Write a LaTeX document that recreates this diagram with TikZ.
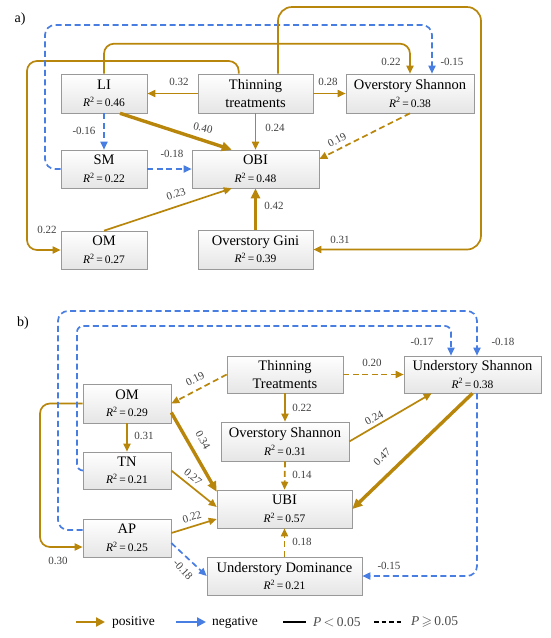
\documentclass[tikz,border=0pt]{standalone}
\usepackage{fontspec}
\setmainfont{Liberation Serif}
\usepackage{amssymb}
\usetikzlibrary{arrows.meta,calc,shadows}
\definecolor{brn}{RGB}{184,134,11}
\definecolor{blu}{RGB}{72,125,225}
\newcommand\nmf{\fontsize{14.5}{17.5}\selectfont}
\newcommand\rrf{\fontsize{11.5}{17.5}\selectfont}
\newcommand\rsq[1]{{\rrf\textit{R}\textsuperscript{2}\,=\,#1}}
\tikzset{
  box/.style={draw=black!40, line width=0.6pt, top color=white, bottom color=black!10,
    drop shadow={shadow xshift=1.3pt,shadow yshift=-1.3pt,opacity=0.35,fill=black!60},
    align=center, inner sep=1pt, font=\nmf},
  posarr/.style={draw=brn, line width=1.7pt, -{Triangle[length=8pt,width=7pt]}},
  negarr/.style={draw=blu, line width=1.7pt, dash pattern=on 6pt off 3.5pt, -{Triangle[length=8pt,width=7pt]}},
  dsh/.style={dash pattern=on 6pt off 3.5pt},
  heavy/.style={line width=3.4pt, -{Triangle[length=10pt,width=9pt]}},
  lbl/.style={font=\fontsize{11}{12}\selectfont, text=black!75, inner sep=0pt},
  lgd/.style={font=\fontsize{13.5}{15}\selectfont, anchor=west, inner sep=0pt},
}
\begin{document}
\begin{tikzpicture}[x=1pt,y=-1pt]
\useasboundingbox (0,0) rectangle (550,638);
% ---------------- part a ----------------
\node[font=\fontsize{14}{16}\selectfont] (alab) at (20,19) {a)};
\node[box, minimum width=86pt, minimum height=39pt] (aLI) at (104,93.5) {LI\\\rsq{0.46}};
\node[box, minimum width=115pt, minimum height=39pt] (aTT) at (255.5,93.5) {Thinning\\treatments};
\node[box, minimum width=128pt, minimum height=39pt] (aOS) at (410,93.5) {Overstory Shannon\\\rsq{0.38}};
\node[box, minimum width=86pt, minimum height=38pt] (aSM) at (104,169) {SM\\\rsq{0.22}};
\node[box, minimum width=127pt, minimum height=38pt] (aOBI) at (255.5,169) {OBI\\\rsq{0.48}};
\node[box, minimum width=86pt, minimum height=38pt] (aOM) at (104,250) {OM\\\rsq{0.27}};
\node[box, minimum width=115pt, minimum height=39pt] (aOG) at (255.5,249.5) {Overstory Gini\\\rsq{0.39}};
\coordinate (aw1) at (27,61);
\coordinate (aw2) at (45,25);
\coordinate (aw3) at (481,7);

\draw[posarr] (aTT.west) -- (aLI.east);
\draw[posarr] (aTT.east) -- (aOS.west);
\draw[posarr] (aTT.south) -- (aOBI.north);
\draw[posarr, heavy] ($(aLI.south)+(16,0)$) -- ($(aOBI.north west)+(40,0)$);
\draw[negarr] (aLI.south) -- (aSM.north);
\draw[negarr] (aSM.east) -- (aOBI.west);
\draw[posarr] (aOM.north) -- ($(aOBI.south west)+(40,0)$);
\draw[posarr, heavy] (aOG.north) -- (aOBI.south);
\draw[posarr, dsh] (aOS.south) -- ($(aOBI.east)+(0,-10)$);
\draw[posarr, rounded corners=10pt] ($(aTT.north west)+(41,0)$) |- (aw1) |- (aOM.west);
\draw[posarr, rounded corners=10pt] (aLI.north) |- ($(aOS.north)+(0,-30)$) -- (aOS.north);
\draw[negarr, rounded corners=10pt] (aSM.west) -| (aw2) -| ($(aOS.north)+(22,0)$);
\draw[posarr, rounded corners=14pt] ($(aTT.north)+(22.5,0)$) |- (aw3) |- (aOG.east);

\node[lbl] (la1) at (179,82) {0.32};
\node[lbl] (la2) at (328,82) {0.28};
\node[lbl] (la3) at (275,128) {0.24};
\node[lbl, rotate=-12] (la4) at (203,128) {0.40};
\node[lbl] (la5) at (84,131) {-0.16};
\node[lbl] (la6) at (172,154) {-0.18};
\node[lbl, rotate=18] (la7) at (176,194) {0.23};
\node[lbl] (la8) at (274,206) {0.42};
\node[lbl, rotate=28] (la9) at (337,140) {0.19};
\node[lbl] (la10) at (47,230) {0.22};
\node[lbl] (la11) at (391,62) {0.22};
\node[lbl] (la12) at (452,62) {-0.15};
\node[lbl] (la13) at (340,240) {0.31};

% ---------------- part b ----------------
\node[font=\fontsize{14}{16}\selectfont] (blab) at (23,323) {b)};
\node[box, minimum width=116pt, minimum height=37pt] (bTT) at (285,374.5) {Thinning\\Treatments};
\node[box, minimum width=137pt, minimum height=37pt] (bUS) at (472.5,374.5) {Understory Shannon\\\rsq{0.38}};
\node[box, minimum width=88pt, minimum height=39pt] (bOM) at (127,403.5) {OM\\\rsq{0.29}};
\node[box, minimum width=128pt, minimum height=39pt] (bOS) at (285,441.5) {Overstory Shannon\\\rsq{0.31}};
\node[box, minimum width=88pt, minimum height=37pt] (bTN) at (127,470.5) {TN\\\rsq{0.21}};
\node[box, minimum width=135pt, minimum height=38pt] (bUBI) at (284.5,509) {UBI\\\rsq{0.57}};
\node[box, minimum width=88pt, minimum height=38pt] (bAP) at (127,538) {AP\\\rsq{0.25}};
\node[box, minimum width=155pt, minimum height=38pt] (bUD) at (284.5,576) {Understory Dominance\\\rsq{0.21}};
\coordinate (bw1) at (40,547);
\coordinate (bw2) at (77,326);
\coordinate (bw3) at (58,311);

\draw[posarr, dsh] (bTT.west) -- (bOM.east);
\draw[posarr, dsh] (bTT.east) -- (bUS.west);
\draw[posarr] (bTT.south) -- (bOS.north);
\draw[posarr] (bOS.east) -- ($(bUS.south west)+(28,0)$);
\draw[posarr, dsh] (bOS.south) -- (bUBI.north);
\draw[posarr, heavy] (bUS.south) -- (bUBI.east);
\draw[posarr] (bOM.south) -- (bTN.north);
\draw[posarr, heavy] ($(bOM.east)+(0,9)$) -- ($(bUBI.north west)+(0,2)$);
\draw[posarr] (bTN.east) -- ($(bUBI.west)+(0,-2)$);
\draw[posarr] ($(bAP.east)+(0,-5)$) -- ($(bUBI.west)+(0,10)$);
\draw[negarr] ($(bAP.east)+(0,5)$) -- (bUD.west);
\draw[posarr, dsh] (bUD.north) -- (bUBI.south);
\draw[negarr, rounded corners=10pt] ($(bUS.south)+(4.5,0)$) |- (bUD.east);
\draw[posarr, rounded corners=10pt] (bOM.west) -| (bw1) -- ($(bAP.west)+(0,9)$);
\draw[negarr, rounded corners=6pt] (bTN.west) -| (bw2) -| ($(bUS.north)+(-21.5,0)$);
\draw[negarr, rounded corners=10pt] ($(bAP.west)+(0,-8)$) -| (bw3) -| ($(bUS.north)+(4.5,0)$);

\node[lbl, rotate=27] (lb1) at (195,379) {0.19};
\node[lbl] (lb2) at (372,363) {0.20};
\node[lbl] (lb3) at (302,408) {0.22};
\node[lbl, rotate=29] (lb4) at (374,418) {0.24};
\node[lbl] (lb5) at (302,475) {0.14};
\node[lbl, rotate=44] (lb6) at (382,457) {0.47};
\node[lbl] (lb7) at (144,436) {0.31};
\node[lbl, rotate=-60] (lb8) at (203,440) {0.34};
\node[lbl, rotate=-40] (lb9) at (193,477) {0.27};
\node[lbl, rotate=17] (lb10) at (192,517) {0.22};
\node[lbl, rotate=-48] (lb11) at (183,570) {-0.18};
\node[lbl] (lb12) at (302,542) {0.18};
\node[lbl] (lb13) at (389,566) {-0.15};
\node[lbl] (lb14) at (58,561) {0.30};
\node[lbl] (lb15) at (422,342) {-0.17};
\node[lbl] (lb16) at (503,342) {-0.18};

% ---------------- legend ----------------
\coordinate (g1) at (76,622); \coordinate (g2) at (105,622);
\coordinate (g3) at (176,622); \coordinate (g4) at (206,622);
\coordinate (g5) at (283,622); \coordinate (g6) at (306,622);
\coordinate (g7) at (374,622); \coordinate (g8) at (403,622);
\draw[draw=brn, line width=2.6pt, -{Triangle[length=9pt,width=9pt]}] (g1) -- (g2);
\draw[draw=blu, line width=2.6pt, -{Triangle[length=9pt,width=9pt]}] (g3) -- (g4);
\draw[line width=2.6pt] (g5) -- (g6);
\draw[line width=2.6pt, dash pattern=on 4.5pt off 3pt] (g7) -- (g8);
\node[lgd] (t1) at (112,622) {positive};
\node[lgd] (t2) at (212,622) {negative};
\node[lgd, text=black!70] (t3) at (313,622) {\textit{P}\,$<$\,0.05};
\node[lgd, text=black!70] (t4) at (411,622) {\textit{P}\,$\geqslant$\,0.05};
\end{tikzpicture}
\end{document}
